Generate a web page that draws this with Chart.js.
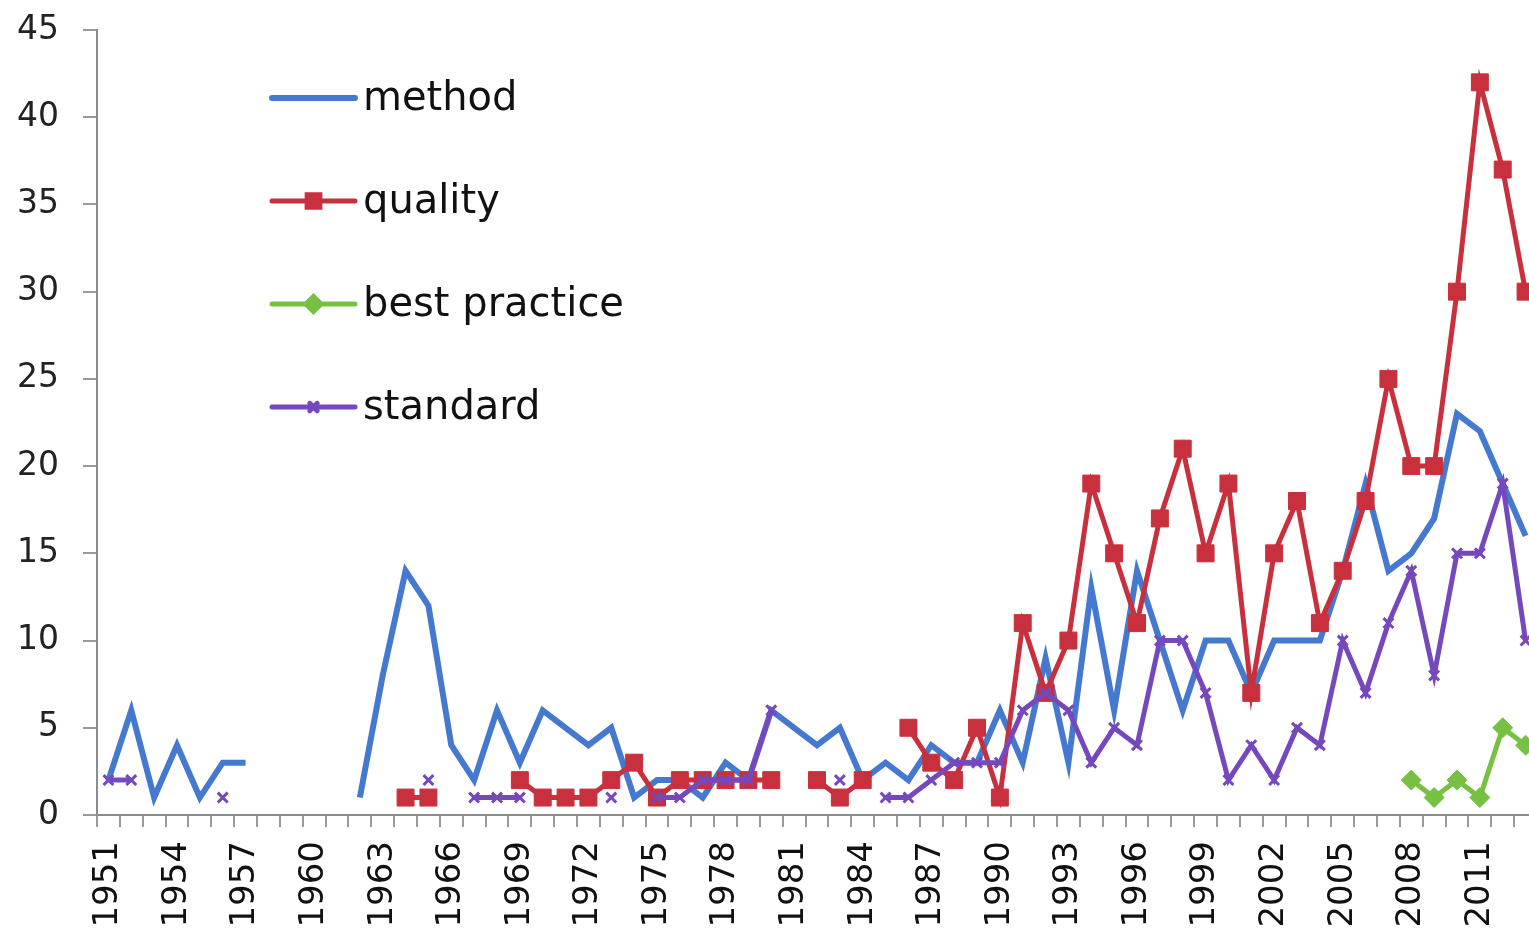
<!DOCTYPE html>
<html>
<head>
<meta charset="utf-8">
<title>Term frequency by year</title>
<script src="https://cdn.jsdelivr.net/npm/chart.js@4.4.1/dist/chart.umd.min.js"></script>
<style>
  html, body { margin: 0; padding: 0; background: #ffffff; overflow: hidden; }
  #wrap { position: relative; width: 1550px; height: 928px; }
</style>
</head>
<body>
<div id="wrap"><canvas id="chart"></canvas></div>
<script>
// Publication years (one category per year)
const years = ['1951','1952','1953','1954','1955','1956','1957','1958','1959','1960',
  '1961','1962','1963','1964','1965','1966','1967','1968','1969','1970',
  '1971','1972','1973','1974','1975','1976','1977','1978','1979','1980',
  '1981','1982','1983','1984','1985','1986','1987','1988','1989','1990',
  '1991','1992','1993','1994','1995','1996','1997','1998','1999','2000',
  '2001','2002','2003','2004','2005','2006','2007','2008','2009','2010',
  '2011','2012','2013'];

// Years that carry a printed label on the x axis
const labelledYears = ['1951','1954','1957','1960','1963','1966','1969','1972','1975',
  '1978','1981','1984','1987','1990','1993','1996','1999','2002','2005','2008','2011'];

// Counts per year; null = no occurrences recorded
const method = [2,6,1,4,1,3,3,null,null,null,
  null,1,8,14,12,4,2,6,3,6,
  5,4,5,1,2,2,1,3,2,6,
  5,4,5,2,3,2,4,3,3,6,
  3,9,3,13,6,14,10,6,10,10,
  7,10,10,10,14,19,14,15,17,23,
  22,19,16];

const quality = [null,null,null,null,null,null,null,null,null,null,
  null,null,null,1,1,null,null,null,2,1,
  1,1,2,3,1,2,2,2,2,2,
  null,2,1,2,null,5,3,2,5,1,
  11,7,10,19,15,11,17,21,15,19,
  7,15,18,11,14,18,25,20,20,30,
  42,37,30];

const bestPractice = [null,null,null,null,null,null,null,null,null,null,
  null,null,null,null,null,null,null,null,null,null,
  null,null,null,null,null,null,null,null,null,null,
  null,null,null,null,null,null,null,null,null,null,
  null,null,null,null,null,null,null,null,null,null,
  null,null,null,null,null,null,null,2,1,2,
  1,5,4];

const standard = [2,2,null,null,null,1,null,null,null,null,
  null,null,null,null,2,null,1,1,1,null,
  null,null,1,null,1,1,2,2,2,6,
  null,null,2,null,1,1,2,3,3,3,
  6,7,6,3,5,4,10,10,7,2,
  4,2,5,4,10,7,11,14,8,15,
  15,19,10];

const yTicks = { min: 0, max: 45, step: 5 };

const FONT = '"DejaVu Sans", "Liberation Sans", sans-serif';

// Legend stacked inside the plot, drawn from the dataset styles
const insideLegend = {
  id: 'insideLegend',
  afterDatasetsDraw(chart) {
    const ctx = chart.ctx;
    const x0 = 272, x1 = 355, textX = 363, firstY = 98, gap = 103;
    ctx.save();
    chart.data.datasets.forEach((ds, i) => {
      const y = firstY + i * gap;
      ctx.strokeStyle = ds.borderColor;
      ctx.lineWidth = ds.borderWidth;
      ctx.lineCap = 'round';
      ctx.beginPath();
      ctx.moveTo(x0, y);
      ctx.lineTo(x1, y);
      ctx.stroke();
      if (ds.pointRadius > 0) {
        ctx.fillStyle = ds.pointBackgroundColor;
        ctx.strokeStyle = ds.pointBorderColor;
        Chart.helpers.drawPoint(ctx, {
          pointStyle: ds.pointStyle,
          radius: ds.pointRadius * 0.75,
          rotation: 0,
          borderWidth: ds.pointBorderWidth
        }, (x0 + x1) / 2, y);
      }
      ctx.fillStyle = '#111111';
      ctx.font = '40px ' + FONT;
      ctx.textAlign = 'left';
      ctx.textBaseline = 'middle';
      ctx.fillText(ds.label, textX, y + 2);
    });
    ctx.restore();
  }
};

const blue = '#4579d0', red = '#c9303e', green = '#76c043', purple = '#7548bd';

new Chart(document.getElementById('chart'), {
  type: 'line',
  data: {
    labels: years,
    datasets: [
      { label: 'method', data: method, borderColor: blue, backgroundColor: blue,
        borderWidth: 6, pointRadius: 0, order: 4 },
      { label: 'quality', data: quality, borderColor: red, backgroundColor: red,
        borderWidth: 5, pointStyle: 'rect', pointRadius: 12,
        pointBackgroundColor: red, pointBorderColor: red, pointBorderWidth: 1, order: 3 },
      { label: 'best practice', data: bestPractice, borderColor: green, backgroundColor: green,
        borderWidth: 5, pointStyle: 'rectRot', pointRadius: 10,
        pointBackgroundColor: green, pointBorderColor: green, pointBorderWidth: 1, order: 2 },
      { label: 'standard', data: standard, borderColor: purple, backgroundColor: purple,
        borderWidth: 5, pointStyle: 'crossRot', pointRadius: 7,
        pointBackgroundColor: purple, pointBorderColor: purple, pointBorderWidth: 3, order: 1 }
    ]
  },
  options: {
    responsive: true,
    maintainAspectRatio: false,
    animation: false,
    spanGaps: false,
    layout: { padding: { top: 30, right: 10, bottom: 0, left: 0 } },
    plugins: { legend: { display: false }, tooltip: { enabled: false } },
    elements: { line: { tension: 0, borderJoinStyle: 'miter' } },
    scales: {
      x: {
        type: 'category',
        offset: true,
        border: { display: true, color: '#8c8c8c', width: 2 },
        grid: { display: true, drawOnChartArea: false, drawTicks: true, tickLength: 12,
                offset: true, color: '#9a9a9a', lineWidth: 2 },
        ticks: {
          autoSkip: false, maxRotation: 90, minRotation: 90, padding: 14,
          color: '#111111', font: { family: FONT, size: 34 },
          callback(value, index) {
            const y = years[index];
            return labelledYears.includes(y) ? y : '';
          }
        },
        afterFit(scale) {
          scale.height = 113;
          scale.paddingLeft = 0; scale.paddingRight = 0;
          scale.paddingTop = 0; scale.paddingBottom = 0;
        }
      },
      y: {
        min: yTicks.min, max: yTicks.max,
        border: { display: true, color: '#8c8c8c', width: 2 },
        grid: { display: true, drawOnChartArea: false, drawTicks: true, tickLength: 14,
                color: '#9a9a9a', lineWidth: 2 },
        ticks: { stepSize: yTicks.step, padding: 24, color: '#222222',
                 font: { family: FONT, size: 33 } },
        afterFit(scale) {
          scale.width = 97;
          scale.paddingTop = 0; scale.paddingBottom = 0;
          scale.paddingLeft = 0; scale.paddingRight = 0;
        }
      }
    }
  },
  plugins: [insideLegend]
});
</script>
</body>
</html>
